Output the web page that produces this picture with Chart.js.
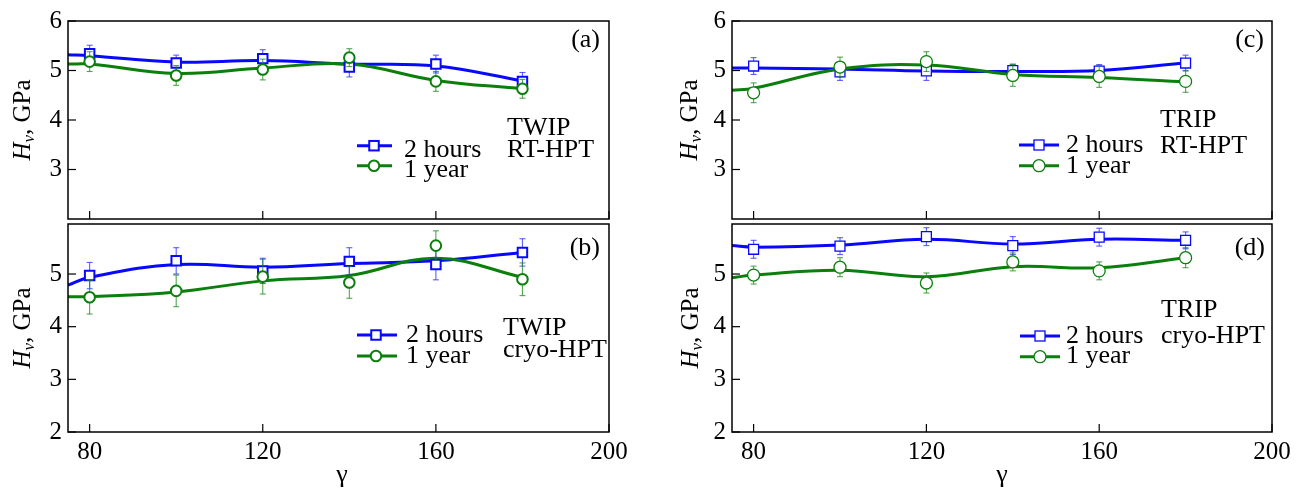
<!DOCTYPE html>
<html>
<head>
<meta charset="utf-8">
<script src="https://cdn.jsdelivr.net/npm/chart.js@4.4.1/dist/chart.umd.min.js"></script>
<style>
  body { margin: 0; background: #fff; width: 1301px; height: 489px; overflow: hidden; position: relative; }
  canvas { position: absolute; }
</style>
</head>
<body>
<canvas id="pa" width="650" height="240" style="left:0px;top:0px"></canvas>
<canvas id="pc" width="651" height="240" style="left:650px;top:0px"></canvas>
<canvas id="pb" width="650" height="289" style="left:0px;top:200px"></canvas>
<canvas id="pd" width="651" height="289" style="left:650px;top:200px"></canvas>
<script>
const FONT = '"Liberation Serif", "Times New Roman", serif';
const BLUE = '#0808ff';
const GREEN = '#0b7f0b';

// shear strain values and tick positions
const gammaX = [80, 100, 120, 140, 160, 180];
const fitX = [75, 80, 100, 120, 140, 160, 180];
const xTicks = [80, 120, 160, 200];
const yTicksTop = [3, 4, 5, 6];
const yTicksBottom = [2, 3, 4, 5];
const seriesNames = ['2 hours', '1 year'];

// (a) TWIP, RT-HPT
const twipRtHours = [5.34, 5.15, 5.24, 5.07, 5.13, 4.78];
const twipRtHoursErr = [0.17, 0.16, 0.18, 0.20, 0.18, 0.18];
const twipRtHoursFit = [5.32, 5.30, 5.17, 5.20, 5.13, 5.09, 4.79];
const twipRtYear = [5.18, 4.90, 5.02, 5.26, 4.78, 4.63];
const twipRtYearErr = [0.20, 0.20, 0.21, 0.18, 0.20, 0.19];
const twipRtYearFit = [5.13, 5.13, 4.94, 5.05, 5.13, 4.80, 4.63];

// (b) TWIP, cryo-HPT
const twipCryoHours = [4.97, 5.25, 5.06, 5.24, 5.18, 5.41];
const twipCryoHoursErr = [0.25, 0.25, 0.24, 0.26, 0.29, 0.26];
const twipCryoHoursFit = [4.79, 4.94, 5.18, 5.13, 5.20, 5.25, 5.41];
const twipCryoYear = [4.56, 4.68, 4.95, 4.84, 5.54, 4.90];
const twipCryoYearErr = [0.32, 0.30, 0.33, 0.30, 0.28, 0.31];
const twipCryoYearFit = [4.57, 4.57, 4.66, 4.87, 4.97, 5.30, 4.94];

// (c) TRIP, RT-HPT
const tripRtHours = [5.09, 4.97, 4.99, 5.00, 4.99, 5.15];
const tripRtHoursErr = [0.17, 0.17, 0.19, 0.13, 0.13, 0.16];
const tripRtHoursFit = [5.05, 5.05, 5.03, 4.99, 4.98, 5.00, 5.15];
const tripRtYear = [4.55, 5.07, 5.18, 4.90, 4.88, 4.78];
const tripRtYearErr = [0.20, 0.20, 0.20, 0.22, 0.22, 0.22];
const tripRtYearFit = [4.60, 4.64, 5.03, 5.11, 4.92, 4.86, 4.77];

// (d) TRIP, cryo-HPT
const tripCryoHours = [5.47, 5.53, 5.71, 5.54, 5.70, 5.64];
const tripCryoHoursErr = [0.17, 0.16, 0.17, 0.17, 0.17, 0.16];
const tripCryoHoursFit = [5.54, 5.51, 5.55, 5.66, 5.57, 5.66, 5.64];
const tripCryoYear = [4.98, 5.13, 4.83, 5.23, 5.06, 5.31];
const tripCryoYearErr = [0.17, 0.18, 0.19, 0.17, 0.17, 0.19];
const tripCryoYearFit = [4.93, 4.98, 5.07, 4.95, 5.14, 5.12, 5.31];

function pts(xs, ys) {
    return xs.map((x, i) => ({ x: x, y: ys[i] }));
}

function line(ctx, x1, y1, x2, y2) {
    ctx.beginPath(); ctx.moveTo(x1, y1); ctx.lineTo(x2, y2); ctx.stroke();
}

function drawMarker(ctx, type, x, y, color, thin) {
    ctx.save();
    ctx.lineWidth = thin ? 1.3 : 2;
    ctx.strokeStyle = color;
    ctx.fillStyle = '#fff';
    if (type == 'rect') {
        const s = thin ? 10 : 9.5;
        ctx.fillRect(x - s / 2, y - s / 2, s, s);
        ctx.strokeRect(x - s / 2, y - s / 2, s, s);
    } else {
        ctx.beginPath();
        ctx.arc(x, y, thin ? 6 : 5.3, 0, Math.PI * 2);
        ctx.fill(); ctx.stroke();
    }
    ctx.restore();
}

function makeDecor(p) {
    return {
        id: 'decor',
        beforeDatasetDraw(chart, args) {
            const ds = chart.data.datasets[args.index];
            if (!ds.err) return;
            const ctx = chart.ctx;
            const ys = chart.scales.y;
            const meta = chart.getDatasetMeta(args.index);
            ctx.save();
            ctx.strokeStyle = ds.errColor;
            ctx.lineWidth = 1.1;
            meta.data.forEach((pt, i) => {
                const v = ds.data[i].y;
                const top = ys.getPixelForValue(v + ds.err[i]);
                const bot = ys.getPixelForValue(v - ds.err[i]);
                line(ctx, pt.x, top, pt.x, bot);
                line(ctx, pt.x - 3, top, pt.x + 3, top);
                line(ctx, pt.x - 3, bot, pt.x + 3, bot);
            });
            ctx.restore();
        },
        afterDraw(chart) {
            const ctx = chart.ctx;
            const a = chart.chartArea;
            const xs = chart.scales.x, ys = chart.scales.y;
            ctx.save();
            // frame and inward ticks
            ctx.strokeStyle = '#000';
            ctx.lineWidth = 1.5;
            ctx.strokeRect(a.left, a.top, a.right - a.left, a.bottom - a.top);
            ctx.lineWidth = 1.2;
            xTicks.forEach(t => {
                const px = xs.getPixelForValue(t);
                line(ctx, px, a.bottom, px, a.bottom - 8);
            });
            p.yTicks.forEach(t => {
                const py = ys.getPixelForValue(t);
                line(ctx, a.left, py, a.left + 8, py);
            });

            ctx.fillStyle = '#000';
            // y title: H_v, GPa
            ctx.save();
            ctx.translate(p.yTitleX - p.ox, (a.top + a.bottom) / 2);
            ctx.rotate(-Math.PI / 2);
            const fH = 'italic 25px ' + FONT, fV = 'italic 17px ' + FONT, fR = '25px ' + FONT;
            ctx.font = fH; const wH = ctx.measureText('H').width;
            ctx.font = fV; const wV = ctx.measureText('v').width;
            ctx.font = fR; const wR = ctx.measureText(', GPa').width;
            let tx = -(wH + wV + wR) / 2;
            ctx.textBaseline = 'alphabetic';
            ctx.font = fH; ctx.fillText('H', tx, 0); tx += wH;
            ctx.font = fV; ctx.fillText('v', tx, 4); tx += wV;
            ctx.font = fR; ctx.fillText(', GPa', tx, 0);
            ctx.restore();

            ctx.font = '26px ' + FONT;
            ctx.textBaseline = 'alphabetic';
            // x title
            if (p.showX) {
                ctx.textAlign = 'center';
                ctx.fillText('\u03b3', p.xTitle[0] - p.ox, p.xTitle[1] - p.oy);
            }
            // panel tag
            ctx.textAlign = 'right';
            ctx.fillText(p.tag, p.tagPos[0] - p.ox, p.tagPos[1] - p.oy);
            // steel and processing
            ctx.textAlign = 'left';
            ctx.fillText(p.steel[0], p.steelX - p.ox, p.steelY[0] - p.oy);
            ctx.fillText(p.steel[1], p.steelX - p.ox, p.steelY[1] - p.oy);
            // legend
            const L = p.leg;
            [[BLUE, 'rect'], [GREEN, 'circle']].forEach((s, i) => {
                const ly = L.rows[i] - p.oy;
                ctx.strokeStyle = s[0];
                ctx.lineWidth = 3;
                line(ctx, L.x1 - p.ox, ly, L.x2 - p.ox, ly);
                drawMarker(ctx, s[1], L.mx - p.ox, ly, s[0], p.thin);
                ctx.fillStyle = '#000';
                ctx.font = '26px ' + FONT;
                ctx.textAlign = 'left';
                ctx.fillText(seriesNames[i], L.tx - p.ox, L.base[i] - p.oy);
            });
            ctx.restore();
        }
    };
}

const panels = [
    { id: 'pa', ox: 0, oy: 0, yAxisW: 68, padTop: 16, padRight: 41, xAxisH: 17, yMax: 6, yTicks: yTicksTop,
      showX: false, thin: false, yTitleX: 30, tag: '(a)', tagPos: [600, 47],
      steel: ['TWIP', 'RT-HPT'], steelX: 507, steelY: [135, 157],
      leg: { x1: 357, x2: 392, mx: 374, rows: [145.7, 165.7], tx: 404, base: [157, 177] },
      hours: [twipRtHours, twipRtHoursErr, twipRtHoursFit], year: [twipRtYear, twipRtYearErr, twipRtYearFit] },
    { id: 'pb', ox: 0, oy: 200, yAxisW: 68, padTop: 24, padRight: 41, xAxisH: 57, yMax: 5.95, yTicks: yTicksBottom,
      showX: true, xTitle: [342, 482], thin: false, yTitleX: 30, tag: '(b)', tagPos: [600, 255],
      steel: ['TWIP', 'cryo-HPT'], steelX: 503, steelY: [335, 357],
      leg: { x1: 357, x2: 397, mx: 376, rows: [335, 356], tx: 406, base: [342.3, 363.3] },
      hours: [twipCryoHours, twipCryoHoursErr, twipCryoHoursFit], year: [twipCryoYear, twipCryoYearErr, twipCryoYearFit] },
    { id: 'pc', ox: 650, oy: 0, yAxisW: 82, padTop: 16, padRight: 29, xAxisH: 17, yMax: 6, yTicks: yTicksTop,
      showX: false, thin: true, yTitleX: 697, tag: '(c)', tagPos: [1264, 47],
      steel: ['TRIP', 'RT-HPT'], steelX: 1160, steelY: [127.3, 153.3],
      leg: { x1: 1019, x2: 1059, mx: 1039, rows: [145, 165.7], tx: 1066, base: [152.3, 173.3] },
      hours: [tripRtHours, tripRtHoursErr, tripRtHoursFit], year: [tripRtYear, tripRtYearErr, tripRtYearFit] },
    { id: 'pd', ox: 650, oy: 200, yAxisW: 82, padTop: 24, padRight: 29, xAxisH: 57, yMax: 5.95, yTicks: yTicksBottom,
      showX: true, xTitle: [1002, 482], thin: true, yTitleX: 697.5, tag: '(d)', tagPos: [1265, 255],
      steel: ['TRIP', 'cryo-HPT'], steelX: 1161, steelY: [316.7, 342.7],
      leg: { x1: 1020, x2: 1060, mx: 1040, rows: [336, 356.7], tx: 1066, base: [342.7, 363.3] },
      hours: [tripCryoHours, tripCryoHoursErr, tripCryoHoursFit], year: [tripCryoYear, tripCryoYearErr, tripCryoYearFit] }
];

panels.forEach(p => {
    const data = {
        datasets: [
            { data: pts(fitX, p.hours[2]), borderColor: BLUE, borderWidth: 3, pointRadius: 0, tension: 0.4, fill: false, order: 4 },
            { data: pts(fitX, p.year[2]), borderColor: GREEN, borderWidth: 3, pointRadius: 0, tension: 0.4, fill: false, order: 3 },
            { data: pts(gammaX, p.hours[0]), err: p.hours[1], errColor: 'rgba(40,40,255,0.75)', showLine: false,
              pointStyle: 'rect', pointRadius: p.thin ? 7 : 6.7, pointBorderWidth: p.thin ? 1.3 : 2,
              borderColor: BLUE, backgroundColor: '#fff', order: 2 },
            { data: pts(gammaX, p.year[0]), err: p.year[1], errColor: 'rgba(30,135,30,0.75)', showLine: false,
              pointStyle: 'circle', pointRadius: p.thin ? 6 : 5.3, pointBorderWidth: p.thin ? 1.3 : 2,
              borderColor: GREEN, backgroundColor: '#fff', order: 1 }
        ]
    };
    const options = {
        responsive: false,
        animation: false,
        events: [],
        layout: { padding: { top: p.padTop, right: p.padRight, left: 0, bottom: 0 } },
        plugins: { legend: { display: false }, tooltip: { enabled: false } },
        scales: {
            x: {
                type: 'linear', min: 75, max: 200,
                afterBuildTicks: s => { s.ticks = xTicks.map(v => ({ value: v })); },
                afterFit: s => { s.height = p.xAxisH; },
                grid: { display: false, drawTicks: false },
                border: { display: false },
                ticks: { display: p.showX, color: '#000', padding: 5, maxRotation: 0, font: { family: FONT, size: 25 } }
            },
            y: {
                type: 'linear', min: 2, max: p.yMax,
                afterBuildTicks: s => { s.ticks = p.yTicks.map(v => ({ value: v })); },
                afterFit: s => { s.width = p.yAxisW; },
                grid: { display: false, drawTicks: false },
                border: { display: false },
                ticks: { color: '#000', padding: 6, font: { family: FONT, size: 25 } }
            }
        }
    };
    new Chart(p.id, { type: 'line', data, options, plugins: [makeDecor(p)] });
});
</script>
</body>
</html>
